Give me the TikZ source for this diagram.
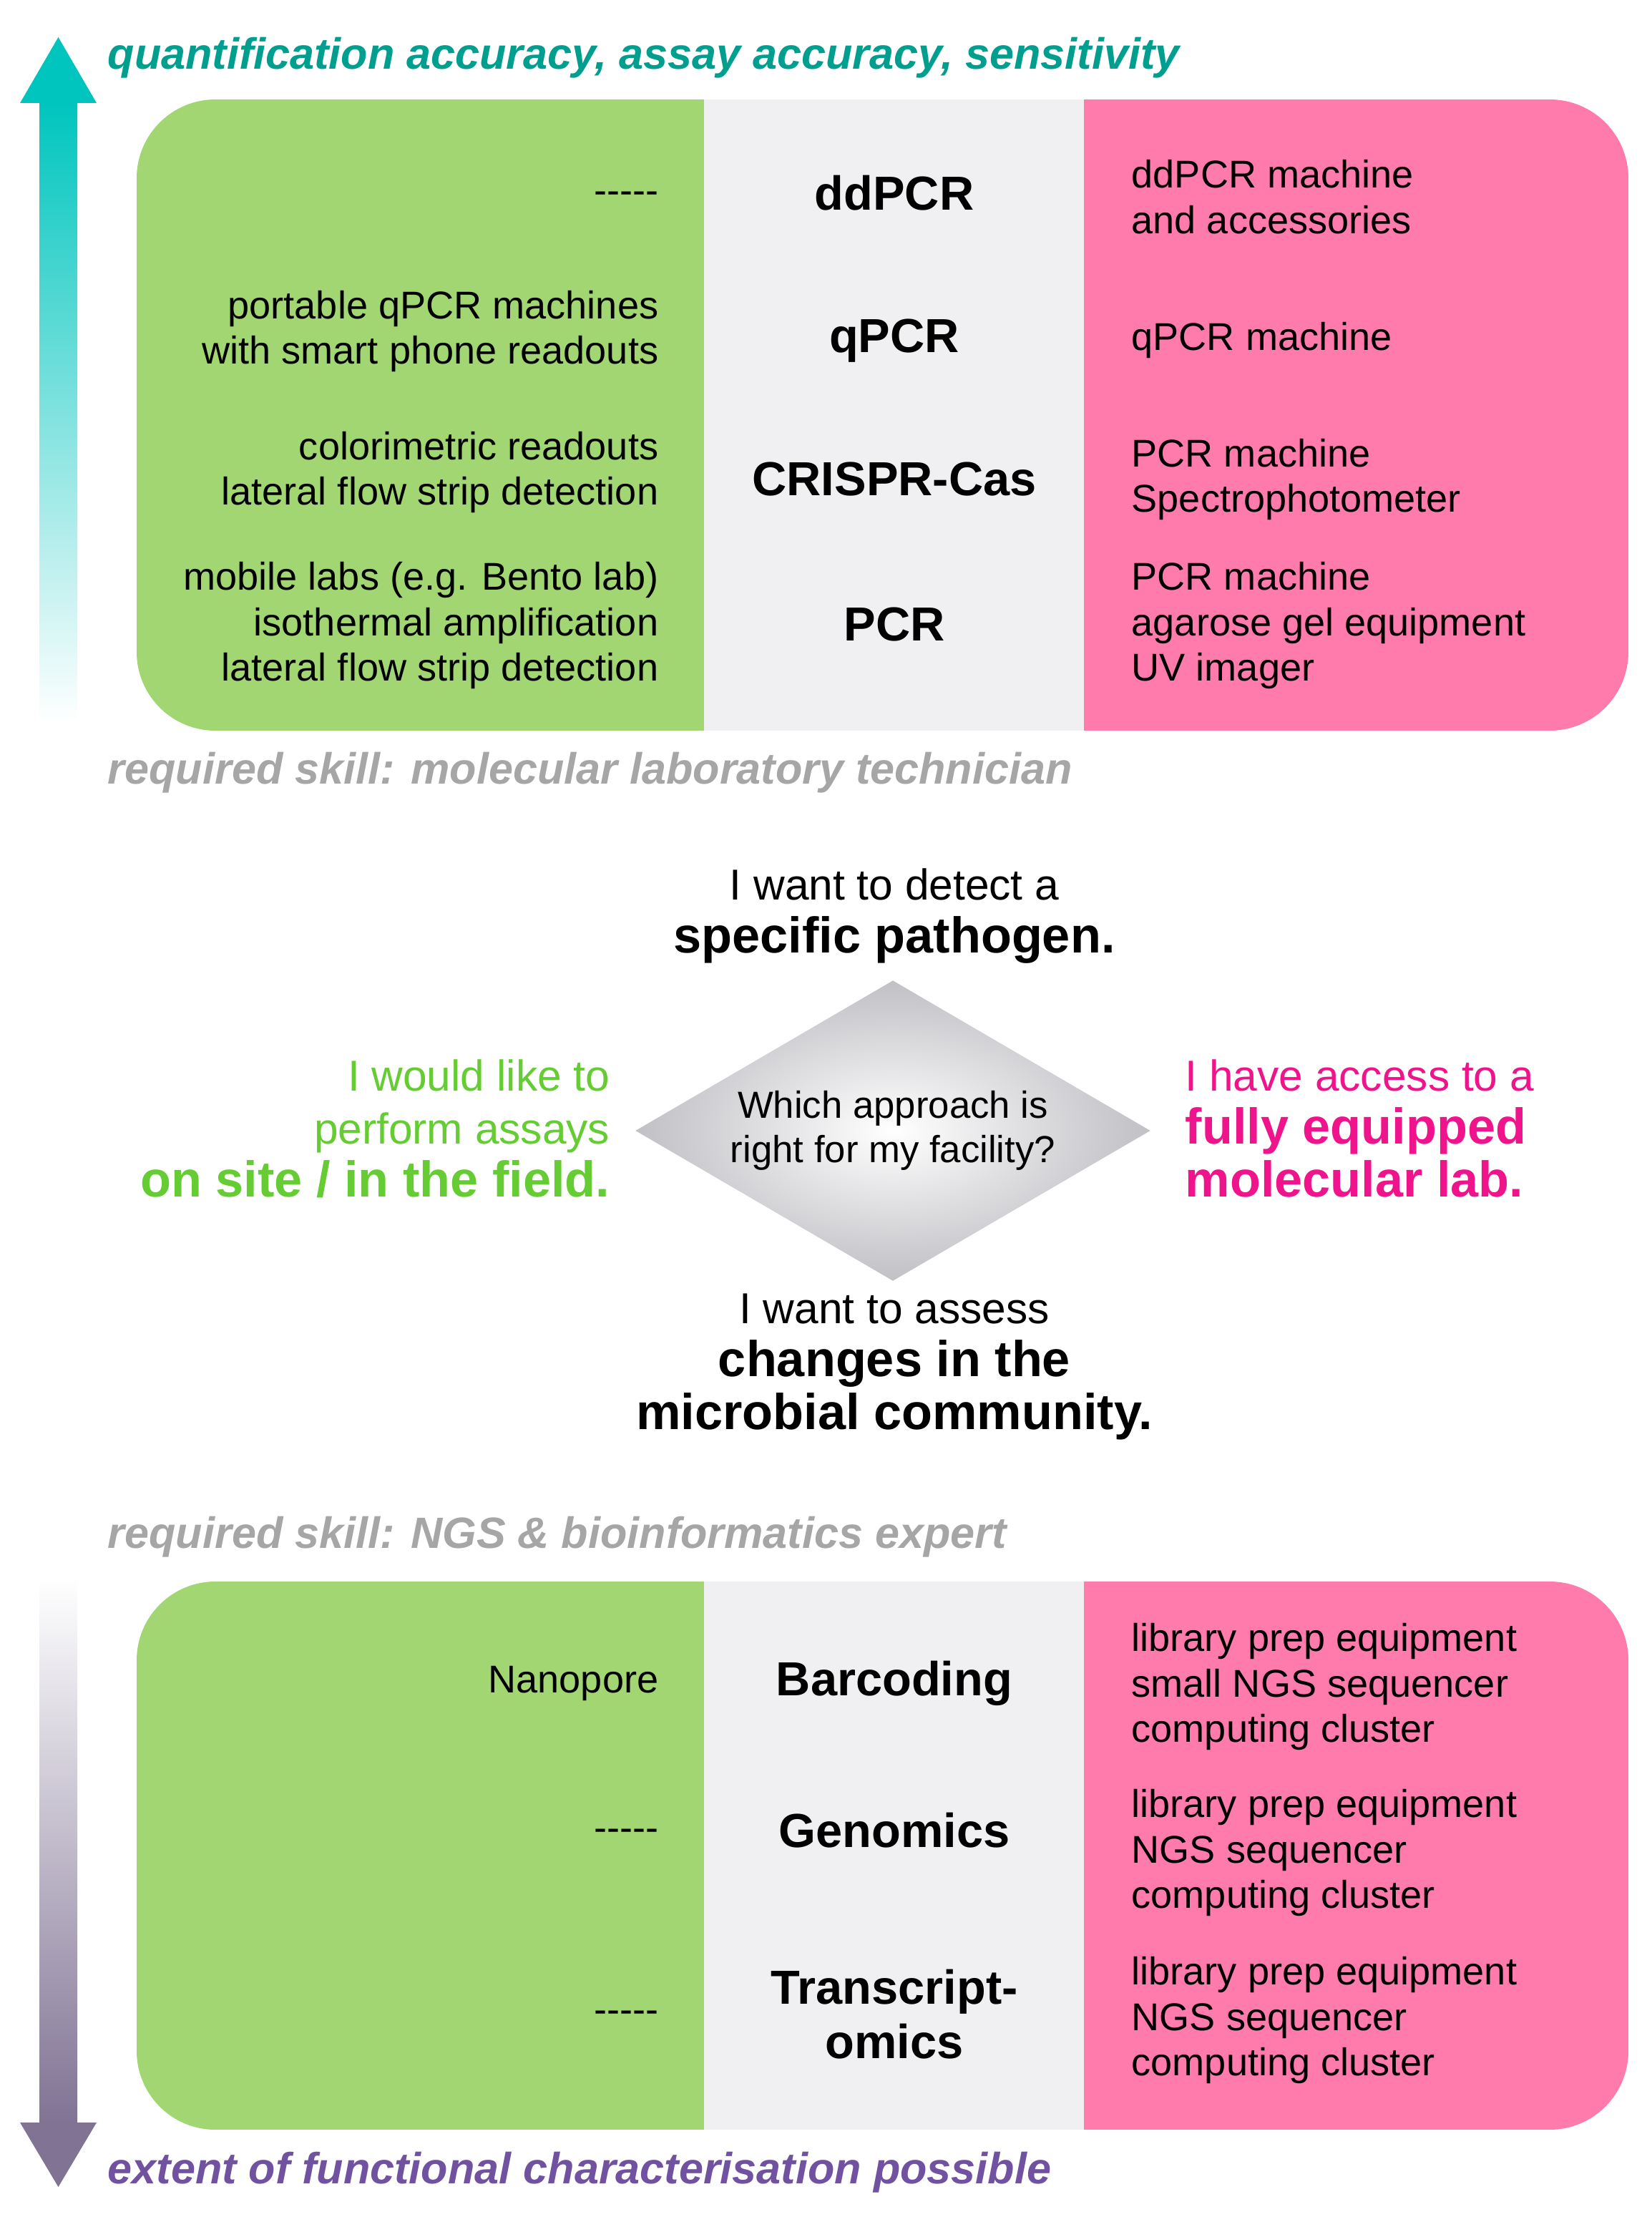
\documentclass[tikz,border=0pt]{standalone}
\usepackage{fontspec}
\setmainfont{Liberation Sans}
\usetikzlibrary{shapes.geometric}

\definecolor{boxgreen}{RGB}{161,214,114}
\definecolor{boxgray}{RGB}{240,240,242}
\definecolor{boxpink}{RGB}{255,123,172}
\definecolor{arrowteal}{RGB}{0,197,190}
\definecolor{titleteal}{RGB}{0,158,142}
\definecolor{arrowpurple}{RGB}{128,115,148}
\definecolor{titlepurple}{RGB}{112,82,160}
\definecolor{skillgray}{RGB}{166,166,166}
\definecolor{wishgreen}{RGB}{102,204,51}
\definecolor{wishpink}{RGB}{240,20,140}
\definecolor{diamondgray}{RGB}{192,192,197}

\newcommand{\bigbold}{\fontsize{20}{21}\selectfont\bfseries}
\newcommand{\nodash}{-{}-{}-{}-{}-}

\begin{document}
\begin{tikzpicture}[
    body/.style={inner sep=0pt, font=\fontsize{15.4}{18.2}\selectfont},
    lefttext/.style={body, anchor=east, align=right},
    righttext/.style={body, anchor=west, align=left},
    method/.style={inner sep=0pt, align=center, font=\fontsize{19}{21.6}\selectfont\bfseries},
    skill/.style={inner sep=0pt, anchor=west, text=skillgray, font=\fontsize{17.4}{20}\selectfont\bfseries\itshape},
    wish/.style={inner sep=0pt, font=\fontsize{17.2}{21}\selectfont},
  ]
  \useasboundingbox (0,0) rectangle (23.08,-31.12);

  % arrows at the left
  \shade[top color=arrowteal, bottom color=white] (0.55,-1.43) rectangle (1.08,-10.10);
  \fill[arrowteal] (0.28,-1.44) -- (0.815,-0.52) -- (1.35,-1.44) -- cycle;
  \shade[top color=white, bottom color=arrowpurple] (0.55,-22.05) rectangle (1.08,-29.67);
  \fill[arrowpurple] (0.28,-29.66) -- (1.35,-29.66) -- (0.815,-30.56) -- cycle;

  % the two boxes
  \foreach \top/\bot in {-1.39/-10.21, -22.10/-29.76} {
    \begin{scope}
      \clip[rounded corners=1.1cm] (1.91,\top) rectangle (22.76,\bot);
      \fill[boxpink] (15.15,\top) rectangle (22.76,\bot);
      \fill[boxgray] (9.84,\top) rectangle (15.15,\bot);
      \fill[boxgreen] (1.91,\top) rectangle (9.84,\bot);
    \end{scope}
  }

  \node[skill, text=titleteal] (HA) at (1.50,-0.81) {quantification accuracy, assay accuracy, sensitivity};

  \node[method] (CA) at (12.50,-2.70) {ddPCR};
  \node[method] (CB) at (12.50,-4.76) {qPCR};
  \node[method] (CC) at (12.50,-6.70) {CRISPR-Cas};
  \node[method] (CD) at (12.50,-8.73) {PCR};

  \node[lefttext] (LA) at (9.21,-2.76) {\nodash};
  \node[lefttext] (LB) at (9.21,-4.63) {portable qPCR machines\\with smart phone readouts};
  \node[lefttext] (LC) at (9.21,-6.60) {colorimetric readouts\\lateral flow strip detection};
  \node[lefttext] (LD) at (9.21,-8.74) {mobile labs (e.g. Bento lab)\\isothermal amplification\\lateral flow strip detection};

  \node[righttext] (RA) at (15.81,-2.75) {ddPCR machine\\and accessories};
  \node[righttext] (RB) at (15.81,-4.76) {qPCR machine};
  \node[righttext] (RC) at (15.81,-6.70) {PCR machine\\Spectrophotometer};
  \node[righttext] (RD) at (15.81,-8.74) {PCR machine\\agarose gel equipment\\UV imager};

  \node[skill] (HB) at (1.50,-10.80) {required skill: molecular laboratory technician};

  % the question in the middle
  \node[diamond, aspect=1.714, minimum width=7.2cm, minimum height=4.2cm, inner sep=0pt,
        inner color=white, outer color=diamondgray, align=center,
        font=\fontsize{15}{17.5}\selectfont] (QQ) at (12.48,-15.80) {Which approach is\\right for my facility?};

  \node[wish, align=center] (SA) at (12.50,-12.80) {I want to detect a\\{\bigbold specific pathogen.}};
  \node[wish, anchor=east, align=right, text=wishgreen] (SB) at (8.53,-15.77) {I would like to\\perform assays\\{\bigbold on site / in the field.}};
  \node[wish, anchor=west, align=left, text=wishpink] (SC) at (16.56,-15.77) {I have access to a\\{\bigbold fully equipped}\\{\bigbold molecular lab.}};
  \node[wish, align=center] (SD) at (12.50,-19.10) {I want to assess\\{\bigbold changes in the}\\{\bigbold microbial community.}};

  \node[skill] (HC) at (1.50,-21.48) {required skill: NGS \& bioinformatics expert};

  \node[method] (CE) at (12.50,-23.52) {Barcoding};
  \node[method] (CF) at (12.50,-25.58) {Genomics};
  \node[method] (CG) at (12.50,-28.15) {Transcript-\\omics};

  \node[lefttext] (LE) at (9.21,-23.52) {Nanopore};
  \node[lefttext] (LF) at (9.21,-25.64) {\nodash};
  \node[lefttext] (LG) at (9.21,-28.18) {\nodash};

  \node[righttext] (RE) at (15.81,-23.57) {library prep equipment\\small NGS sequencer\\computing cluster};
  \node[righttext] (RF) at (15.81,-25.89) {library prep equipment\\NGS sequencer\\computing cluster};
  \node[righttext] (RG) at (15.81,-28.23) {library prep equipment\\NGS sequencer\\computing cluster};

  \node[skill, text=titlepurple] (HD) at (1.50,-30.36) {extent of functional characterisation possible};
\end{tikzpicture}
\end{document}
